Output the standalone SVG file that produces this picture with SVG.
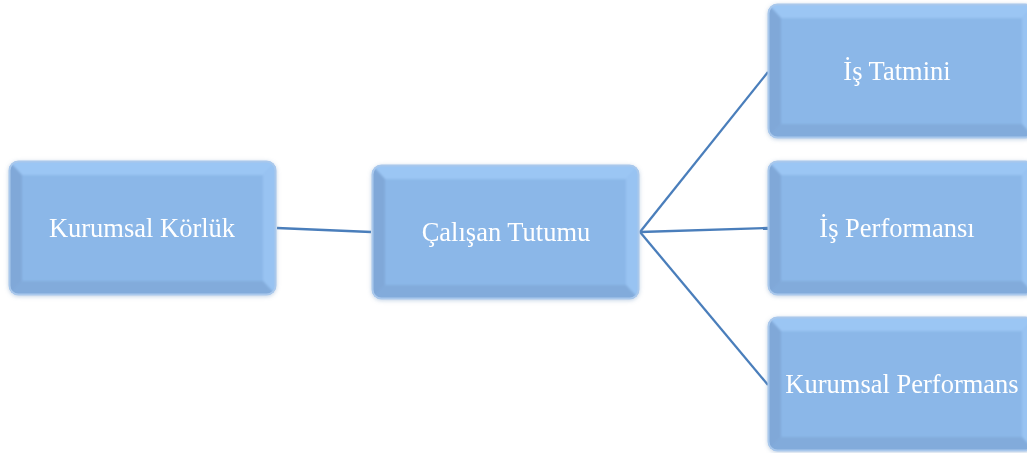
<svg xmlns="http://www.w3.org/2000/svg" width="1027" height="453" viewBox="0 0 1027 453">
<defs>
<style>
.box{fill:#8bb7e8;}
.outer{fill:none;stroke:#a9c8ec;stroke-width:2;}
.bt{fill:#9bc6f4;}
.br{fill:#98c3f2;}
.bb{fill:#82abdb;}
.bl{fill:#80a8d8;}
.lbl{font-family:"Liberation Serif","Times New Roman",serif;font-size:26.5px;fill:#ffffff;text-anchor:middle;}
.conn{stroke:#4a7ebb;stroke-width:2.3;fill:none;}
</style>
<filter id="sh" x="-10%" y="-10%" width="120%" height="120%">
<feGaussianBlur in="SourceAlpha" stdDeviation="2"/>
<feOffset dx="0" dy="1" result="b"/>
<feFlood flood-color="#7a9cc4" flood-opacity="0.45"/>
<feComposite in2="b" operator="in"/>
<feMerge><feMergeNode/><feMergeNode in="SourceGraphic"/></feMerge>
</filter>
<filter id="soft" x="-5%" y="-5%" width="110%" height="110%">
<feGaussianBlur stdDeviation="1.2"/>
</filter>
<clipPath id="cp"><rect x="0" y="0" width="267" height="134" rx="9"/></clipPath>
<g id="bevel">
<rect class="box" x="0" y="0" width="267" height="134" rx="9"/>
<g clip-path="url(#cp)">
<g filter="url(#soft)">
<polygon class="bt" points="0,0 267,0 254,14 13,14"/>
<polygon class="br" points="267,0 267,134 254,120 254,14"/>
<polygon class="bb" points="0,134 267,134 254,120 13,120"/>
<polygon class="bl" points="0,0 0,134 13,120 13,14"/>
<rect class="box" x="13" y="14" width="241" height="106"/>
</g>
</g>
<rect class="outer" x="0.5" y="0.5" width="266" height="133" rx="9"/>
</g>
</defs>
<g id="connectors">
<line class="conn" x1="277" y1="228" x2="371" y2="232"/>
<line class="conn" x1="640" y1="232" x2="768" y2="72"/>
<line class="conn" x1="640" y1="232" x2="768" y2="228"/>
<line class="conn" x1="640" y1="232" x2="768" y2="385"/>
</g>
<g id="n1" filter="url(#sh)">
<use href="#bevel" x="9" y="161"/>
<text class="lbl" x="142" y="237">Kurumsal Körlük</text>
</g>
<g id="n2" filter="url(#sh)">
<use href="#bevel" x="372" y="165"/>
<text class="lbl" x="506" y="241">Çalışan Tutumu</text>
</g>
<g id="n3" filter="url(#sh)">
<use href="#bevel" x="768" y="4"/>
<text class="lbl" x="897" y="80">İş Tatmini</text>
</g>
<g id="n4" filter="url(#sh)">
<use href="#bevel" x="768" y="161"/>
<text class="lbl" x="897" y="237">İş Performansı</text>
</g>
<g id="n5" filter="url(#sh)">
<use href="#bevel" x="768" y="317"/>
<text class="lbl" x="902" y="393">Kurumsal Performans</text>
</g>
</svg>
